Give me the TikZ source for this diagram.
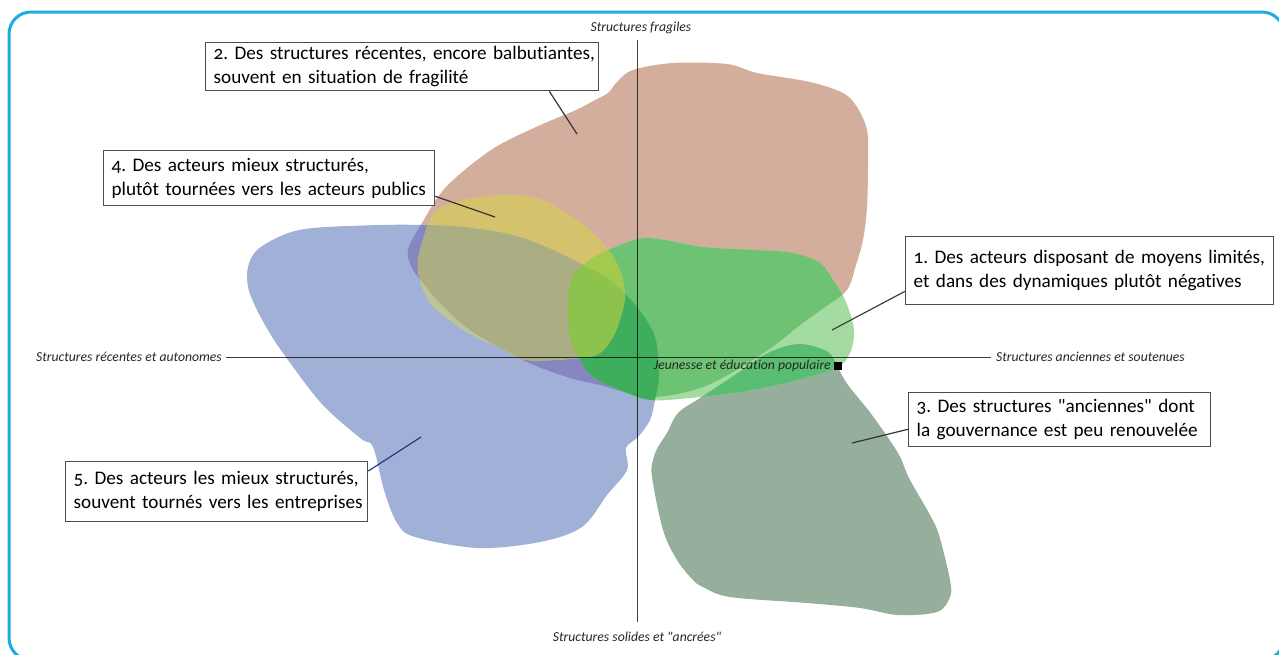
\documentclass[tikz,border=0pt]{standalone}
\usepackage{fontspec}
\setmainfont{Carlito}[Numbers=OldStyle, Ligatures={TeXOff,NoCommon}]
\definecolor{framec}{HTML}{1BADE2}
\definecolor{boxgray}{HTML}{4D4D4D}
\definecolor{brownc}{HTML}{D4AE9C}
\definecolor{bluec}{HTML}{A0B0D6}
\definecolor{purplec}{HTML}{8686C2}
\definecolor{yellowc}{HTML}{D4C36C}
\definecolor{palec}{HTML}{BCC49C}
\definecolor{olivec}{HTML}{ABAD82}
\definecolor{tc}{HTML}{96AF9C}
\definecolor{glight}{HTML}{A3DBA0}
\definecolor{gbrown}{HTML}{6EC274}
\definecolor{gt}{HTML}{5ABE72}
\definecolor{gblue}{HTML}{3EAE5D}
\definecolor{gyellow}{HTML}{A3C94D}
\definecolor{gyb}{HTML}{8DC24D}
\definecolor{connblue}{HTML}{2A3A80}
\def\PB{plot[smooth cycle, tension=0.55] coordinates {(608,93) (617,82) (633,70) (673,63) (727,64) (757,73) (810,82) (843,93) (857,107) (867,130) (868,160) (867,207) (863,240) (856,265) (847,290) (825,307) (800,325) (775,345) (740,368) (700,388) (650,397) (600,385) (567,377) (523,360) (470,330) (440,303) (423,283) (412,268) (408,250) (422,223) (446,187) (491,150) (536,127) (576,110) (595,100)}}
\def\PL{plot[smooth cycle, tension=0.55] coordinates {(313,228) (380,225) (423,225) (463,227) (513,235) (553,250) (587,267) (610,280) (637,307) (655,337) (659,375) (655,400) (650,420) (638,437) (626,448) (627,470) (607,495) (582,527) (540,542) (478,548) (415,537) (397,523) (384,490) (373,447) (360,438) (321,403) (283,353) (268,330) (256,308) (248,287) (248,267) (257,250) (283,235)}}
\def\PY{plot[smooth cycle, tension=0.55] coordinates {(437,210) (473,198) (513,195) (543,200) (577,220) (600,240) (617,263) (625,290) (622,313) (613,337) (600,353) (580,358) (527,360) (497,347) (463,330) (430,303) (418,270) (423,240)}}
\def\PG{plot[smooth cycle, tension=0.55] coordinates {(613,248) (647,238) (703,247) (757,250) (793,253) (820,263) (835,283) (846,302) (854,330) (850,353) (836,368) (790,382) (740,392) (690,398) (650,400) (620,390) (593,377) (580,360) (571,340) (568,307) (573,277) (590,260)}}
\def\PT{plot[smooth cycle, tension=0.55] coordinates {(678,413) (700,398) (735,375) (770,352) (800,344) (828,352) (838,368) (848,385) (872,415) (898,453) (909,478) (930,515) (939,535) (950,580) (950,597) (937,612) (898,615) (860,608) (807,603) (730,597) (703,587) (693,580) (677,560) (663,530) (652,477) (653,460) (658,447) (667,433)}}
\begin{document}
\frenchspacing
\begin{tikzpicture}[x=1pt,y=-1pt,
  box/.style={draw=boxgray, line width=1.3pt, fill=white, anchor=north west,
    inner xsep=8pt, inner ysep=0pt, align=left,
    font=\fontsize{19.2}{24}\selectfont\frenchspacing},
  axisline/.style={draw=black, draw opacity=0.75, line width=1pt},
  lab/.style={font=\fontsize{13.7}{15}\selectfont\itshape, inner sep=0pt, text=black!85},
  conn/.style={line width=1.2pt, draw=black!80}]
\useasboundingbox (0,0) rectangle (1279,654);
% shapes
\fill[brownc] \PB;
\fill[bluec] \PL;
\begin{scope}\clip \PB; \fill[purplec] \PL;\end{scope}
\begin{scope}\clip \PB; \fill[yellowc] \PY;\end{scope}
\begin{scope}\clip \PL; \fill[palec] \PY;\end{scope}
\begin{scope}\clip \PL; \clip \PB; \fill[olivec] \PY;\end{scope}
\fill[tc] \PT;
\fill[glight] \PG;
\begin{scope}\clip \PB; \fill[gbrown] \PG;\end{scope}
\begin{scope}\clip \PT; \fill[gt] \PG;\end{scope}
\begin{scope}\clip \PL; \fill[gblue] \PG;\end{scope}
\begin{scope}\clip \PY; \fill[gyellow] \PG;\end{scope}
\begin{scope}\clip \PY; \clip \PL; \fill[gyb] \PG;\end{scope}
% axes
\node[lab] (top) at (641,28) {Structures fragiles};
\node[lab] (bot) at (637,637) {Structures solides et "ancrées"};
\node[lab, anchor=east] (left) at (222,357) {Structures récentes et autonomes};
\node[lab, anchor=west] (right) at (996,357) {Structures anciennes et soutenues};
\coordinate (vt) at (637,40);
\coordinate (vb) at (637,622);
\coordinate (hl) at (226,357);
\coordinate (hr) at (991,357);
\draw[axisline] (vt) -- (vb);
\draw[axisline] (hl) -- (hr);
\node[fill=black, minimum size=8pt, inner sep=0pt] (sq) at (838,366) {};
\node[lab, anchor=east] (jep) at (831,366) {Jeunesse et éducation populaire};
% boxes
\node[box, text width=377pt, minimum height=48pt] (b2) at (205,42)
  {\mbox{2. Des structures récentes, encore balbutiantes,}\\\mbox{souvent en situation de fragilité}};
\node[box, text width=315pt, minimum height=55pt] (b4) at (103,150)
  {\mbox{4. Des acteurs mieux structurés,}\\\mbox{plutôt tournées vers les acteurs publics}};
\node[box, text width=352pt, minimum height=68pt] (b1) at (905,236)
  {\mbox{1. Des acteurs disposant de moyens limités,}\\\mbox{et dans des dynamiques plutôt négatives}};
\node[box, text width=286pt, minimum height=54pt] (b3) at (908,392)
  {\mbox{3. Des structures "anciennes" dont}\\\mbox{la gouvernance est peu renouvelée}};
\node[box, text width=286pt, minimum height=60pt] (b5) at (65,461)
  {\mbox{5. Des acteurs les mieux structurés,}\\\mbox{souvent tournés vers les entreprises}};
% connectors
\coordinate (e2) at (577,134);
\coordinate (e4) at (495,217);
\coordinate (e1) at (832,330);
\coordinate (e3) at (852,443);
\coordinate (e5) at (421,437);
\draw[conn] (b2.south east) ++(-50,0) -- (e2);
\draw[conn] (b4.south east) ++(0,-10) -- (e4);
\draw[conn, draw=black!75] (b1.south west) ++(0,-14) -- (e1);
\draw[conn] (b3.south west) ++(0,-18) -- (e3);
\draw[conn, draw=connblue] (b5.north east) ++(0,10) -- (e5);
% frame
\draw[framec, line width=3pt, rounded corners=22pt] (9,12) rectangle (1284,660);
\end{tikzpicture}
\end{document}
